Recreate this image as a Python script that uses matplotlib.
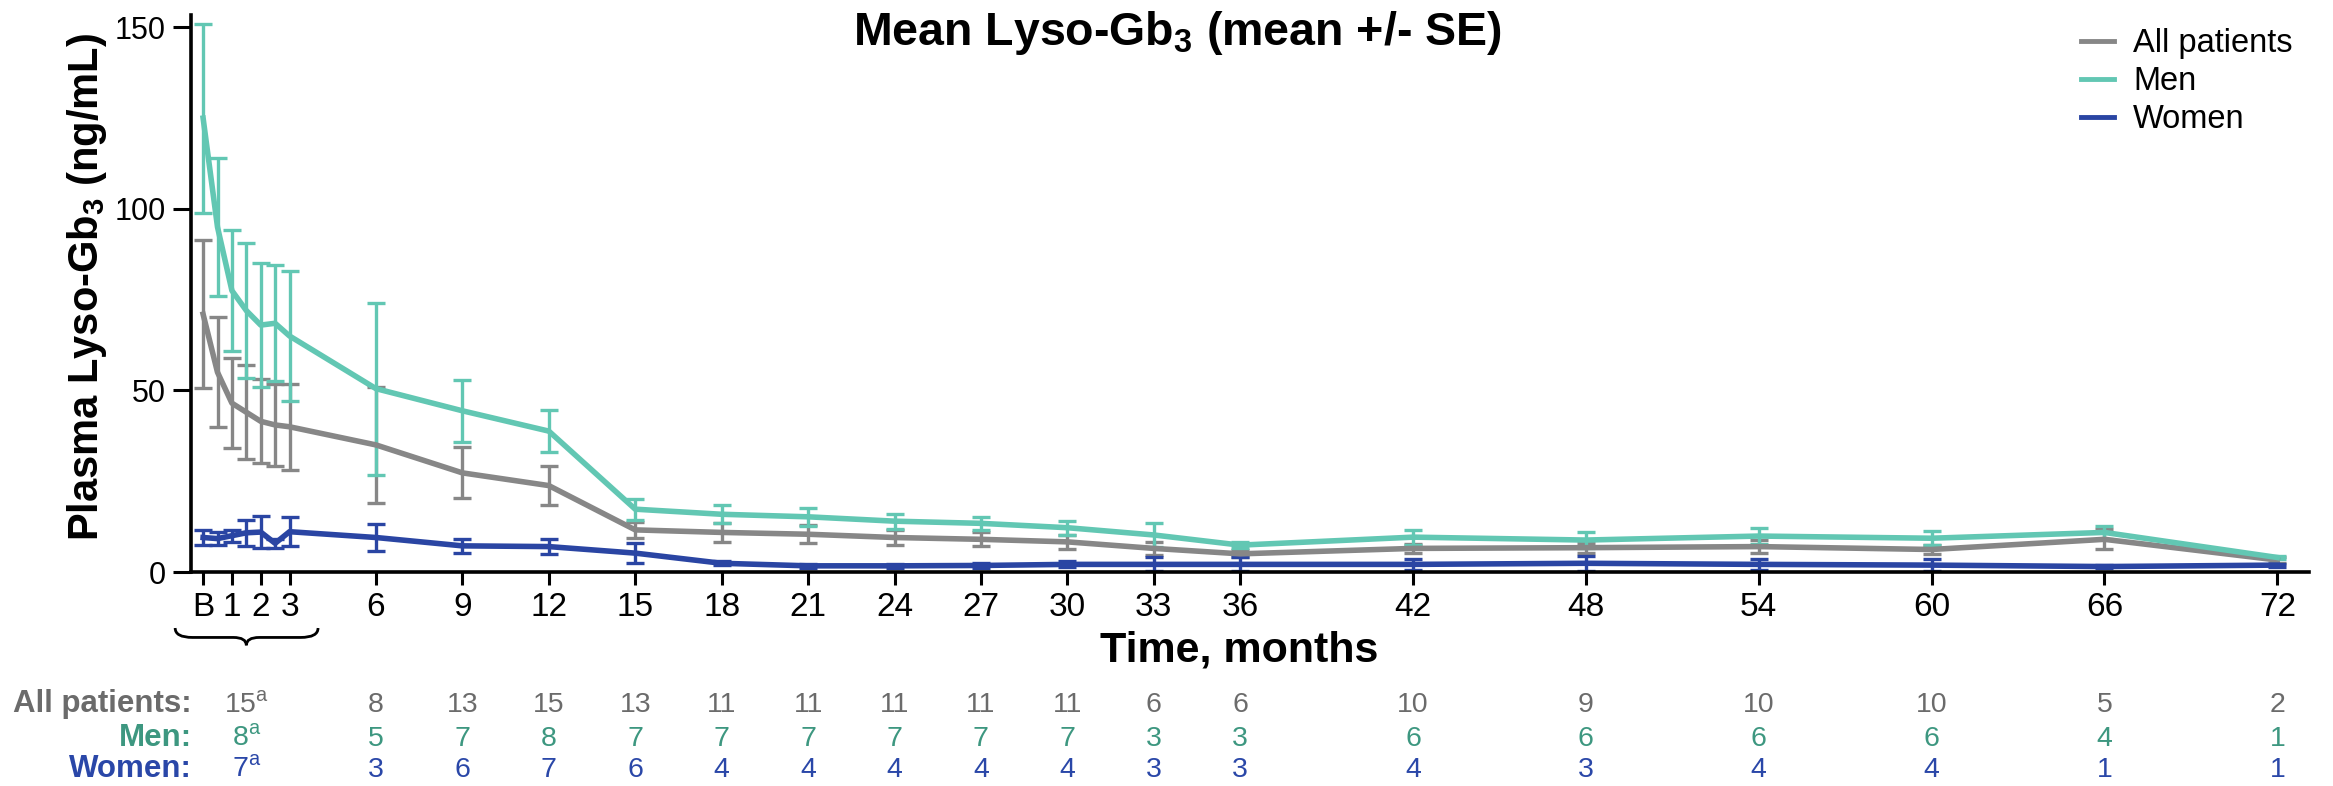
import matplotlib
matplotlib.use("Agg")
import matplotlib.pyplot as plt
import matplotlib.transforms as mtransforms
from matplotlib.path import Path
from matplotlib.patches import PathPatch
from matplotlib.lines import Line2D
from matplotlib import font_manager

# fonts
names = {f.name for f in font_manager.fontManager.ttflist}
NARROW = 'Liberation Sans Narrow' if 'Liberation Sans Narrow' in names else 'Liberation Sans'
SANS = 'Liberation Sans'
plt.rcParams['font.family'] = [SANS, 'DejaVu Sans']
plt.rcParams['mathtext.fontset'] = 'custom'
plt.rcParams['mathtext.rm'] = NARROW
plt.rcParams['mathtext.bf'] = SANS + ':bold'

# data (months, B = baseline = 0)
months = [0, 0.5, 1, 1.5, 2, 2.5, 3, 6, 9, 12, 15, 18, 21, 24, 27, 30, 33, 36, 42, 48, 54, 60, 66, 72]

all_mean = [71, 55, 46.5, 44, 41.5, 40.5, 40, 35, 27.3, 23.8, 11.6, 10.9, 10.4, 9.5, 9.0, 8.3, 6.5, 5.0, 6.5, 6.7, 7.0, 6.2, 9.0, 3.3]
all_se = [20.4, 15.1, 12.4, 12.9, 11.6, 11.4, 11.9, 15.9, 7.0, 5.3, 2.2, 2.6, 2.5, 2.2, 1.9, 1.9, 1.7, 1.0, 1.2, 1.4, 1.7, 1.2, 2.8, 0.8]

men_mean = [125, 95, 77.5, 72, 68, 68.5, 65, 50.5, 44.4, 38.8, 17.3, 15.9, 15.2, 14.0, 13.4, 12.2, 10.2, 7.4, 9.6, 8.8, 9.9, 9.3, 10.9, 4.0]
men_se = [26, 19, 16.6, 18.6, 17, 16, 17.8, 23.7, 8.5, 5.7, 2.9, 2.5, 2.5, 2.1, 1.7, 1.9, 3.2, 0.9, 2.1, 2.2, 2.1, 1.9, 1.9, 0.5]

women_mean = [9.5, 9.2, 10.0, 10.8, 11.0, 7.9, 11.1, 9.5, 7.2, 7.0, 5.2, 2.4, 1.7, 1.7, 1.8, 2.1, 2.1, 2.1, 2.1, 2.4, 2.1, 1.9, 1.5, 1.9]
women_se = [2.1, 1.9, 1.6, 3.6, 4.4, 1.3, 4.0, 3.6, 1.9, 2.0, 2.8, 0.6, 0.5, 0.5, 0.6, 0.8, 1.9, 1.9, 1.6, 2.0, 1.6, 1.6, 0.4, 0.4]

tick_months = [0, 1, 2, 3, 6, 9, 12, 15, 18, 21, 24, 27, 30, 33, 36, 42, 48, 54, 60, 66, 72]
tick_labels = ['B', '1', '2', '3', '6', '9', '12', '15', '18', '21', '24', '27', '30', '33', '36', '42', '48', '54', '60', '66', '72']

# patients per visit (first column pooled over B-3)
n_months = [1.5, 6, 9, 12, 15, 18, 21, 24, 27, 30, 33, 36, 42, 48, 54, 60, 66, 72]
n_all = ['15$^{\\mathrm{a}}$', '8', '13', '15', '13', '11', '11', '11', '11', '11', '6', '6', '10', '9', '10', '10', '5', '2']
n_men = ['8$^{\\mathrm{a}}$', '5', '7', '8', '7', '7', '7', '7', '7', '7', '3', '3', '6', '6', '6', '6', '4', '1']
n_women = ['7$^{\\mathrm{a}}$', '3', '6', '7', '6', '4', '4', '4', '4', '4', '3', '3', '4', '3', '4', '4', '1', '1']

GRAY = '#878787'
TEAL = '#62c7b3'
BLUE = '#2a45a3'

fig = plt.figure(figsize=(23.33, 7.86), dpi=100)
ax = fig.add_axes([0.08187, 0.27226, 0.90784, 0.70866])

series = [
    (all_mean, all_se, GRAY, 'All patients'),
    (men_mean, men_se, TEAL, 'Men'),
    (women_mean, women_se, BLUE, 'Women'),
]
handles = []
for mean, se, col, lab in series:
    ax.errorbar(months, mean, yerr=se, color=col, lw=4.0, elinewidth=2.4,
                capsize=6.5, capthick=2.4)
    handles.append(Line2D([], [], color=col, lw=3.5, label=lab))

ax.set_xlim(-0.42, 73.1)
ax.set_ylim(0, 153.4)
ax.set_yticks([0, 50, 100, 150])
ax.set_xticks(tick_months)
ax.set_xticklabels(tick_labels)
for s in ['top', 'right']:
    ax.spines[s].set_visible(False)
for s in ['left', 'bottom']:
    ax.spines[s].set_linewidth(2.6)
ax.tick_params(axis='y', length=13, width=2.2, pad=5, labelsize=22)
ax.tick_params(axis='x', length=9.5, width=2.2, pad=5, labelsize=24)
for t in ax.get_xticklabels() + ax.get_yticklabels():
    t.set_fontfamily(NARROW)

leg = ax.legend(handles=handles, loc='upper right', bbox_to_anchor=(0.9985, 1.0), frameon=False,
                fontsize=23.5, handlelength=1.0, handletextpad=0.6,
                labelspacing=0.22, borderaxespad=0.0)

# titles
fig.text(0.3656, 0.9427, 'Mean Lyso-Gb$_\\mathbf{3}$ (mean +/- SE)', ha='left', va='baseline',
         fontsize=33.5, fontweight='bold')
fig.text(0.0375, 0.635, 'Plasma Lyso-Gb$_\\mathbf{3}$ (ng/mL)', ha='center', va='center',
         rotation=90, fontsize=30, fontweight='bold')
fig.text(0.531, 0.159, 'Time, months', ha='center', va='baseline', fontsize=31, fontweight='bold')

# brace under B-3
trans = mtransforms.blended_transform_factory(ax.transData, fig.transFigure)
yt, ym, yb = 0.201, 0.189, 0.179
x0, xc, x1 = -0.97, 1.5, 3.99
verts = [(x0, yt), (x0, ym), (x0 + 0.6, ym), (xc - 0.45, ym), (xc, ym), (xc, yb),
         (xc, ym), (xc + 0.45, ym), (x1 - 0.6, ym), (x1, ym), (x1, yt)]
codes = [Path.MOVETO, Path.CURVE3, Path.CURVE3, Path.LINETO, Path.CURVE3, Path.CURVE3,
         Path.CURVE3, Path.CURVE3, Path.LINETO, Path.CURVE3, Path.CURVE3]
fig.add_artist(PathPatch(Path(verts, codes), transform=trans, fill=False, lw=2.0,
                         edgecolor='black', clip_on=False))

# patient numbers table
rows = [
    ('All patients:', n_all, '#6b6b6b', 0.0941),
    ('Men:', n_men, '#3d9780', 0.0509),
    ('Women:', n_women, '#2a47a8', 0.0115),
]
for label, vals, col, yb_ in rows:
    fig.text(0.0823, yb_, label, ha='right', va='baseline', fontsize=22.5,
             fontweight='bold', color=col)
    for m, v in zip(n_months, vals):
        ax.text(m, yb_, v, transform=trans, ha='center', va='baseline',
                fontsize=20.5, color=col, fontfamily=NARROW)

fig.savefig('out.png', dpi=100)
